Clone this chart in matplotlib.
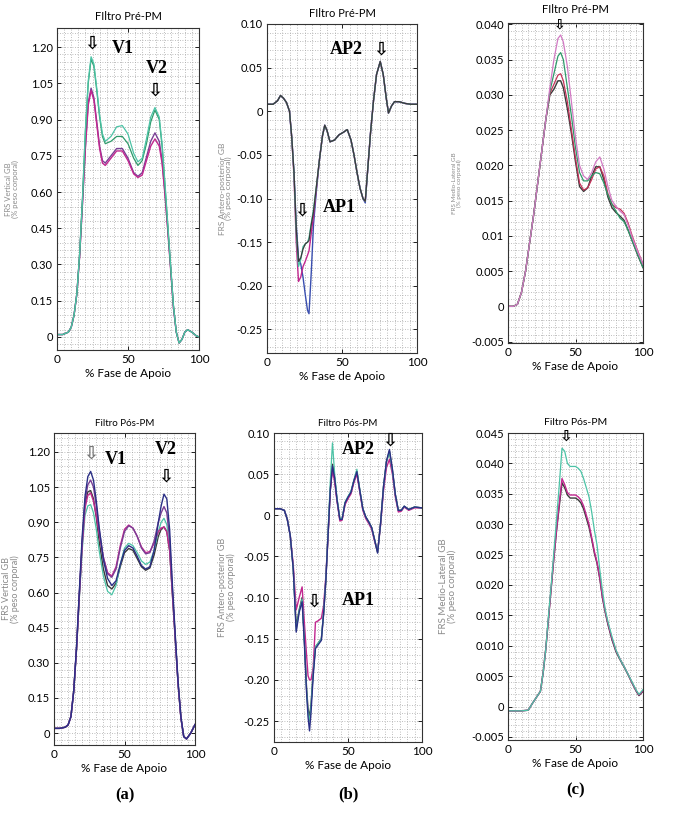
import matplotlib
matplotlib.use("Agg")
import matplotlib.pyplot as plt
from matplotlib.ticker import MultipleLocator

plt.rcParams['font.family'] = ['Lato', 'DejaVu Sans']

# ---------------- data ----------------
# (a) vertical, pre
x_v_pre = [0, 4, 8, 10, 12, 14, 16, 18, 20, 22, 24, 26, 28, 30, 32, 34, 38, 42, 46, 50,
           54, 57, 60, 63, 66, 69, 72, 74, 76, 78, 80, 82, 84, 86, 88, 90, 92, 95, 98, 100]
v_pre_teal = [0.01, 0.01, 0.02, 0.04, 0.09, 0.18, 0.35, 0.58, 0.86, 1.06, 1.16, 1.13, 1.03, 0.92, 0.84, 0.81, 0.83, 0.87, 0.875, 0.84,
              0.76, 0.725, 0.74, 0.82, 0.91, 0.95, 0.91, 0.80, 0.64, 0.47, 0.30, 0.13, 0.02, -0.025, -0.01, 0.02, 0.03, 0.02, 0.005, 0.0]
v_pre_green = [0.01, 0.01, 0.02, 0.04, 0.09, 0.18, 0.35, 0.58, 0.85, 1.05, 1.15, 1.12, 1.02, 0.91, 0.83, 0.80, 0.81, 0.83, 0.83, 0.80,
               0.74, 0.71, 0.73, 0.80, 0.89, 0.94, 0.90, 0.79, 0.63, 0.46, 0.29, 0.13, 0.02, -0.025, -0.01, 0.02, 0.03, 0.02, 0.005, 0.0]
v_pre_magenta = [0.01, 0.01, 0.02, 0.04, 0.09, 0.18, 0.34, 0.56, 0.78, 0.96, 1.02, 0.98, 0.88, 0.78, 0.72, 0.71, 0.74, 0.77, 0.77, 0.73,
                 0.675, 0.66, 0.67, 0.73, 0.79, 0.82, 0.79, 0.72, 0.59, 0.44, 0.28, 0.12, 0.02, -0.025, -0.01, 0.02, 0.03, 0.02, 0.005, 0.0]
v_pre_dark = [0.01, 0.01, 0.02, 0.04, 0.09, 0.18, 0.34, 0.56, 0.79, 0.97, 1.03, 0.99, 0.89, 0.79, 0.73, 0.72, 0.75, 0.78, 0.78, 0.74,
              0.68, 0.665, 0.68, 0.745, 0.81, 0.845, 0.81, 0.73, 0.60, 0.45, 0.29, 0.125, 0.02, -0.025, -0.01, 0.02, 0.03, 0.02, 0.005, 0.0]

# (b) antero-posterior, pre
x_ap_pre = [0, 4, 7, 9, 11, 13, 15, 16.5, 18, 19.5, 21, 22.5, 24, 25.5, 27, 28, 29.5, 31, 33, 35,
            37, 38.5, 40, 42, 45, 48, 51, 53.5, 56, 58, 60, 62, 64, 65.5, 67, 69, 71, 73, 75.5, 77.5,
            79.5, 81, 83, 85, 88, 92, 96, 100]
ap_pre_dark = [0.008, 0.008, 0.012, 0.018, 0.015, 0.01, 0.0, -0.03, -0.07, -0.135, -0.172, -0.168, -0.158, -0.152, -0.15, -0.148, -0.13, -0.115, -0.085, -0.055,
               -0.028, -0.016, -0.022, -0.035, -0.033, -0.027, -0.024, -0.021, -0.033, -0.05, -0.07, -0.088, -0.1, -0.103, -0.07, -0.025, 0.012, 0.042, 0.057, 0.042,
               0.015, -0.002, 0.006, 0.011, 0.011, 0.009, 0.008, 0.008]
ap_pre_magenta = [0.008, 0.008, 0.012, 0.018, 0.015, 0.01, 0.0, -0.03, -0.075, -0.15, -0.195, -0.19, -0.178, -0.172, -0.165, -0.16, -0.14, -0.12, -0.087, -0.055,
                  -0.028, -0.016, -0.022, -0.035, -0.033, -0.027, -0.024, -0.021, -0.033, -0.05, -0.07, -0.088, -0.1, -0.103, -0.07, -0.025, 0.012, 0.042, 0.057, 0.042,
                  0.015, -0.002, 0.006, 0.011, 0.011, 0.009, 0.008, 0.008]
ap_pre_teal = [0.008, 0.008, 0.012, 0.018, 0.015, 0.01, 0.0, -0.03, -0.072, -0.14, -0.178, -0.17, -0.155, -0.152, -0.15, -0.145, -0.128, -0.112, -0.085, -0.055,
               -0.028, -0.016, -0.022, -0.035, -0.033, -0.027, -0.024, -0.021, -0.033, -0.05, -0.07, -0.088, -0.1, -0.103, -0.07, -0.025, 0.012, 0.042, 0.057, 0.042,
               0.015, -0.002, 0.006, 0.011, 0.011, 0.009, 0.008, 0.008]
ap_pre_blue = [0.008, 0.008, 0.012, 0.018, 0.015, 0.01, 0.0, -0.03, -0.07, -0.13, -0.168, -0.175, -0.19, -0.21, -0.228, -0.232, -0.185, -0.13, -0.09, -0.055,
               -0.028, -0.016, -0.022, -0.035, -0.033, -0.027, -0.024, -0.021, -0.033, -0.05, -0.07, -0.088, -0.1, -0.105, -0.07, -0.025, 0.012, 0.042, 0.057, 0.042,
               0.015, -0.002, 0.006, 0.011, 0.011, 0.009, 0.008, 0.008]

# (c) medio-lateral, pre
x_ml_pre = [0, 4, 7, 10, 13, 16, 19, 22, 25, 28, 31, 34, 37, 39, 41, 44, 47, 50, 53, 56,
            59, 62, 65, 68, 71, 74, 77, 80, 83, 86, 89, 92, 96, 100]
ml_pre_pink = [0, 0, 0.0003, 0.002, 0.005, 0.009, 0.013, 0.0175, 0.022, 0.0265, 0.031, 0.035, 0.038, 0.0385, 0.0375, 0.034, 0.029, 0.024, 0.020, 0.0185,
               0.018, 0.019, 0.0205, 0.0212, 0.0195, 0.017, 0.015, 0.0142, 0.0135, 0.013, 0.0115, 0.0098, 0.0078, 0.006]
ml_pre_teal = [0, 0, 0.0003, 0.002, 0.005, 0.009, 0.013, 0.0175, 0.022, 0.0265, 0.0305, 0.033, 0.0355, 0.036, 0.035, 0.031, 0.027, 0.0225, 0.019, 0.0178,
               0.0178, 0.0185, 0.019, 0.0188, 0.0175, 0.0158, 0.0145, 0.0135, 0.0125, 0.012, 0.0108, 0.0093, 0.0074, 0.0055]
ml_pre_red = [0, 0, 0.0003, 0.002, 0.005, 0.009, 0.013, 0.0175, 0.022, 0.0265, 0.0302, 0.0315, 0.0328, 0.033, 0.032, 0.029, 0.025, 0.021, 0.0175, 0.0165,
              0.0168, 0.018, 0.0195, 0.0198, 0.0185, 0.016, 0.0145, 0.014, 0.0138, 0.0132, 0.0118, 0.010, 0.0079, 0.006]
ml_pre_dark = [0, 0, 0.0003, 0.002, 0.005, 0.009, 0.013, 0.0175, 0.022, 0.0265, 0.030, 0.0308, 0.032, 0.032, 0.031, 0.028, 0.0245, 0.0205, 0.017, 0.0163,
               0.0168, 0.0185, 0.0198, 0.0198, 0.018, 0.0155, 0.014, 0.0133, 0.0128, 0.0122, 0.0108, 0.0093, 0.0073, 0.0055]

# (a) vertical, post
x_v_pos = [0, 4, 8, 10, 12, 14, 16, 18, 20, 22, 24, 26, 28, 30, 32, 35, 38, 41, 44, 47,
           50, 53, 56, 59, 62, 65, 68, 71, 74, 76, 78, 80, 82, 84, 86, 88, 90, 92, 94, 97, 100]
v_pos_navy = [0.02, 0.02, 0.025, 0.035, 0.07, 0.18, 0.37, 0.61, 0.84, 1.01, 1.095, 1.117, 1.08, 0.99, 0.88, 0.74, 0.66, 0.63, 0.65, 0.72,
              0.78, 0.80, 0.79, 0.755, 0.715, 0.70, 0.71, 0.78, 0.90, 0.97, 1.02, 1.0, 0.87, 0.63, 0.42, 0.22, 0.07, -0.015, -0.025, 0.0, 0.036]
v_pos_purple = [0.02, 0.02, 0.025, 0.035, 0.07, 0.18, 0.37, 0.60, 0.82, 0.99, 1.06, 1.08, 1.05, 0.97, 0.87, 0.75, 0.68, 0.665, 0.70, 0.79,
                0.86, 0.885, 0.875, 0.84, 0.79, 0.765, 0.77, 0.82, 0.90, 0.94, 0.967, 0.94, 0.83, 0.61, 0.41, 0.21, 0.065, -0.015, -0.025, 0.0, 0.036]
v_pos_magenta = [0.02, 0.02, 0.025, 0.035, 0.07, 0.18, 0.36, 0.59, 0.80, 0.96, 1.015, 1.025, 0.99, 0.93, 0.85, 0.75, 0.685, 0.67, 0.71, 0.80,
                 0.87, 0.888, 0.875, 0.84, 0.795, 0.77, 0.775, 0.81, 0.86, 0.875, 0.88, 0.86, 0.78, 0.59, 0.40, 0.21, 0.065, -0.015, -0.025, 0.0, 0.036]
v_pos_teal = [0.02, 0.02, 0.025, 0.035, 0.07, 0.18, 0.36, 0.58, 0.78, 0.93, 0.97, 0.975, 0.94, 0.87, 0.78, 0.67, 0.605, 0.59, 0.63, 0.72,
              0.79, 0.81, 0.80, 0.77, 0.735, 0.72, 0.73, 0.78, 0.86, 0.90, 0.917, 0.89, 0.80, 0.60, 0.40, 0.21, 0.065, -0.015, -0.025, 0.0, 0.036]
v_pos_gray = [0.02, 0.02, 0.025, 0.035, 0.07, 0.18, 0.36, 0.59, 0.81, 0.98, 1.03, 1.035, 1.0, 0.92, 0.82, 0.70, 0.63, 0.615, 0.64, 0.71,
              0.77, 0.788, 0.78, 0.745, 0.71, 0.695, 0.705, 0.76, 0.84, 0.87, 0.88, 0.86, 0.78, 0.59, 0.40, 0.21, 0.065, -0.015, -0.025, 0.0, 0.036]

# (b) antero-posterior, post
x_ap_pos = [0, 4, 7, 9, 11, 13, 15, 17, 19, 20.5, 22, 23, 24, 25, 26.5, 28, 30, 32, 33.5, 35,
            36.5, 38, 39.5, 41, 42.5, 44.5, 46, 48, 50, 52, 54, 56, 58, 60, 62, 64, 66, 68, 70, 72,
            74, 76, 78, 80, 82, 84, 86, 88, 91, 95, 100]
ap_pos_gray = [0.008, 0.008, 0.006, -0.005, -0.025, -0.065, -0.135, -0.115, -0.1, -0.15, -0.21, -0.235, -0.245, -0.23, -0.19, -0.16, -0.155, -0.15, -0.12, -0.08,
               -0.025, 0.03, 0.062, 0.045, 0.02, -0.005, -0.005, 0.015, 0.022, 0.028, 0.042, 0.053, 0.03, 0.008, -0.002, -0.008, -0.015, -0.03, -0.045, -0.01,
               0.035, 0.065, 0.078, 0.055, 0.025, 0.006, 0.006, 0.011, 0.007, 0.01, 0.009]
ap_pos_navy = [0.008, 0.008, 0.006, -0.005, -0.025, -0.065, -0.142, -0.118, -0.105, -0.155, -0.215, -0.245, -0.262, -0.24, -0.195, -0.162, -0.157, -0.152, -0.12, -0.08,
               -0.025, 0.03, 0.06, 0.045, 0.02, -0.005, -0.005, 0.015, 0.022, 0.028, 0.042, 0.053, 0.03, 0.008, -0.002, -0.008, -0.015, -0.03, -0.046, -0.01,
               0.035, 0.066, 0.08, 0.056, 0.025, 0.006, 0.006, 0.011, 0.007, 0.01, 0.009]
ap_pos_teal = [0.008, 0.008, 0.006, -0.005, -0.025, -0.065, -0.14, -0.116, -0.102, -0.152, -0.212, -0.24, -0.25, -0.232, -0.19, -0.16, -0.155, -0.15, -0.118, -0.078,
               -0.02, 0.04, 0.088, 0.05, 0.022, -0.004, -0.004, 0.016, 0.023, 0.029, 0.043, 0.056, 0.031, 0.008, -0.002, -0.008, -0.015, -0.03, -0.045, -0.01,
               0.035, 0.065, 0.077, 0.054, 0.025, 0.006, 0.006, 0.011, 0.007, 0.01, 0.009]
ap_pos_magenta = [0.008, 0.008, 0.006, -0.005, -0.025, -0.06, -0.115, -0.1, -0.087, -0.13, -0.17, -0.195, -0.2, -0.2, -0.185, -0.13, -0.128, -0.125, -0.11, -0.075,
                  -0.025, 0.03, 0.055, 0.04, 0.018, -0.007, -0.006, 0.013, 0.02, 0.026, 0.04, 0.05, 0.028, 0.006, -0.004, -0.01, -0.017, -0.032, -0.044, -0.012,
                  0.03, 0.058, 0.068, 0.05, 0.022, 0.004, 0.005, 0.01, 0.006, 0.009, 0.009]

# (c) medio-lateral, post
x_ml_pos = [0, 5, 10, 15, 18, 21, 24, 26, 28, 30, 32, 34, 36, 38, 40, 42, 44, 46, 48, 50,
            52, 54, 56, 58, 60, 62, 64, 66, 68, 70, 72, 74, 77, 80, 83, 86, 89, 92, 95, 97, 100]
ml_pos_dark = [-0.0007, -0.0007, -0.0007, -0.0006, 0.0005, 0.0015, 0.0025, 0.0055, 0.0095, 0.0145, 0.0195, 0.0245, 0.029, 0.033, 0.0368, 0.036, 0.0348, 0.0343, 0.0343, 0.0343,
               0.034, 0.0335, 0.0325, 0.031, 0.0295, 0.0275, 0.0252, 0.0235, 0.021, 0.0178, 0.0155, 0.0135, 0.011, 0.009, 0.0077, 0.0065, 0.0052, 0.0038, 0.0025, 0.0018, 0.0025]
ml_pos_teal = [-0.0007, -0.0007, -0.0007, -0.0006, 0.0005, 0.0015, 0.0025, 0.0055, 0.0095, 0.015, 0.020, 0.0255, 0.031, 0.0365, 0.0425, 0.042, 0.040, 0.0395, 0.0395, 0.0395,
               0.0392, 0.0387, 0.0375, 0.036, 0.0345, 0.032, 0.029, 0.0265, 0.0225, 0.019, 0.016, 0.014, 0.0115, 0.0093, 0.0078, 0.0066, 0.0053, 0.004, 0.0027, 0.002, 0.0028]
ml_pos_magenta = [-0.0007, -0.0007, -0.0007, -0.0006, 0.0005, 0.0015, 0.0025, 0.0055, 0.0095, 0.0145, 0.0195, 0.0245, 0.0292, 0.0335, 0.0375, 0.0365, 0.0352, 0.0348, 0.0348, 0.0348,
                  0.0345, 0.034, 0.033, 0.0315, 0.030, 0.0278, 0.0255, 0.0237, 0.0212, 0.018, 0.0157, 0.0137, 0.0112, 0.0092, 0.0078, 0.0066, 0.0053, 0.0039, 0.0026, 0.0019, 0.0026]

# tick labels
v_ticks = [0, 0.15, 0.30, 0.45, 0.60, 0.75, 0.90, 1.05, 1.20]
v_labels = ['0', '0.15', '0.30', '0.45', '0.60', '0.75', '0.90', '1.05', '1.20']
ap_ticks = [-0.25, -0.20, -0.15, -0.10, -0.05, 0, 0.05, 0.10]
ap_labels = ['-0.25', '-0.20', '-0.15', '-0.10', '-0.05', '0', '0.05', '0.10']
ml_pre_ticks = [-0.005, 0, 0.005, 0.01, 0.015, 0.02, 0.025, 0.03, 0.035, 0.04]
ml_pre_labels = ['-0.005', '0', '0.005', '0.01', '0.015', '0.020', '0.025', '0.030', '0.035', '0.040']
ml_pos_ticks = [-0.005, 0, 0.005, 0.01, 0.015, 0.02, 0.025, 0.03, 0.035, 0.04, 0.045]
ml_pos_labels = ['-0.005', '0', '0.005', '0.010', '0.015', '0.020', '0.025', '0.030', '0.035', '0.040', '0.045']

TEAL = '#4cc3a6'
GREEN = '#2e9a6a'
MAGENTA = '#c2278f'
PINK = '#d27ac4'
RED = '#c4325a'
PURPLE = '#7a3f95'
NAVY = '#2b2f86'
DARK = '#3a3a3a'
BLUE = '#3a4fb0'

W, H = 674, 825
fig = plt.figure(figsize=(W / 100, H / 100), dpi=100)


def make_ax(left, right, top, bottom, ylim, yticks, ylabels, ylabel, ylab_size, ylab_x, minor_y):
    ax = fig.add_axes([left / W, 1 - bottom / H, (right - left) / W, (bottom - top) / H])
    ax.set_xlim(0, 100)
    ax.set_ylim(*ylim)
    ax.set_xticks([0, 50, 100])
    ax.set_xticklabels(['0', '50', '100'], fontsize=8.5)
    ax.set_yticks(yticks)
    ax.set_yticklabels(ylabels, fontsize=8)
    ax.xaxis.set_minor_locator(MultipleLocator(5))
    ax.yaxis.set_minor_locator(MultipleLocator(minor_y))
    ax.grid(which='both', linestyle=(0, (1, 2)), color='#a8a8a8', linewidth=0.6)
    ax.tick_params(which='major', direction='in', length=3, width=0.6, pad=3, top=True, right=True)
    ax.tick_params(which='minor', length=0)
    for s in ax.spines.values():
        s.set_linewidth(0.8)
        s.set_color('#333333')
    ax.set_xlabel('% Fase de Apoio', fontsize=8.5, labelpad=2)
    ax.set_ylabel(ylabel, fontsize=ylab_size, color='#8a8a8a', linespacing=0.9)
    ax.yaxis.set_label_coords(ylab_x, 0.5)
    return ax


def arrow(ax, x, y, color='black', size=13):
    ax.text(x, y, '⇩', ha='center', va='center', fontsize=size, color=color,
            family='DejaVu Sans', fontweight='bold', clip_on=False)


def tag(ax, x, y, s):
    ax.text(x, y, s, ha='center', va='center', fontsize=13, fontweight='bold',
            family='Liberation Serif')


# (a) pre
ax1 = make_ax(57, 199, 28, 350, (-0.054, 1.279), v_ticks, v_labels,
              'FRS Vertical GB\n(% peso corporal)', 5.5, -0.27, 0.03)
ax1.plot(x_v_pre, v_pre_dark, color=PURPLE, lw=1.0)
ax1.plot(x_v_pre, v_pre_magenta, color=MAGENTA, lw=1.0)
ax1.plot(x_v_pre, v_pre_green, color=GREEN, lw=0.9)
ax1.plot(x_v_pre, v_pre_teal, color=TEAL, lw=0.9)
ax1.set_title('FIltro Pré-PM', fontsize=8, pad=6)
arrow(ax1, 24.5, 1.215)
tag(ax1, 46, 1.195, 'V1')
tag(ax1, 70, 1.11, 'V2')
arrow(ax1, 69, 1.02)

# (b) pre
ax2 = make_ax(267, 417, 24, 353, (-0.277, 0.10), ap_ticks, ap_labels,
              'FRS Antero-posterior GB\n(% peso corporal)', 6, -0.23, 0.01)
ax2.plot(x_ap_pre, ap_pre_blue, color=BLUE, lw=1.0)
ax2.plot(x_ap_pre, ap_pre_magenta, color=MAGENTA, lw=1.0)
ax2.plot(x_ap_pre, ap_pre_teal, color=TEAL, lw=0.9)
ax2.plot(x_ap_pre, ap_pre_dark, color=DARK, lw=0.9)
ax2.set_title('FIltro Pré-PM', fontsize=8, pad=5)
tag(ax2, 53, 0.071, 'AP2')
arrow(ax2, 76, 0.071)
tag(ax2, 48, -0.11, 'AP1')
arrow(ax2, 23.5, -0.114)

# (c) pre
ax3 = make_ax(508, 643, 23, 343, (-0.0052, 0.0402), ml_pre_ticks, ml_pre_labels,
              'FRS Medio-Lateral GB\n(% peso corporal)', 4.5, -0.34, 0.001)
ax3.plot(x_ml_pre, ml_pre_dark, color=DARK, lw=1.0)
ax3.plot(x_ml_pre, ml_pre_red, color=RED, lw=0.9)
ax3.plot(x_ml_pre, ml_pre_teal, color=GREEN, lw=0.9)
ax3.plot(x_ml_pre, ml_pre_pink, color=PINK, lw=0.9)
ax3.set_title('FIltro Pré-PM', fontsize=8, pad=7)
arrow(ax3, 38.5, 0.0400, size=10)

# (a) post
ax4 = make_ax(54, 195, 433, 745, (-0.051, 1.281), v_ticks, v_labels,
              'FRS Vertical GB\n(% peso corporal)', 6.5, -0.24, 0.03)
ax4.plot(x_v_pos, v_pos_gray, color=DARK, lw=1.0)
ax4.plot(x_v_pos, v_pos_teal, color=TEAL, lw=0.9)
ax4.plot(x_v_pos, v_pos_magenta, color=MAGENTA, lw=1.0)
ax4.plot(x_v_pos, v_pos_purple, color=PURPLE, lw=1.0)
ax4.plot(x_v_pos, v_pos_navy, color=NAVY, lw=1.0)
ax4.set_title('Filtro Pós-PM', fontsize=7, pad=5)
arrow(ax4, 26, 1.195, color='#777777')
tag(ax4, 44, 1.17, 'V1')
tag(ax4, 79, 1.21, 'V2')
arrow(ax4, 79, 1.095)
ax4.text(0.5, -0.16, '(a)', transform=ax4.transAxes, ha='center', va='center',
         fontsize=12, fontweight='bold', family='Liberation Serif')

# (b) post
ax5 = make_ax(274, 422, 433, 742, (-0.2755, 0.10), ap_ticks, ap_labels,
              'FRS Antero-posterior GB\n(% peso corporal)', 6.5, -0.26, 0.01)
ax5.plot(x_ap_pos, ap_pos_gray, color=DARK, lw=1.0)
ax5.plot(x_ap_pos, ap_pos_magenta, color=MAGENTA, lw=1.0)
ax5.plot(x_ap_pos, ap_pos_teal, color=TEAL, lw=0.9)
ax5.plot(x_ap_pos, ap_pos_navy, color=NAVY, lw=1.0)
ax5.set_title('Filtro Pós-PM', fontsize=7, pad=5)
tag(ax5, 57, 0.08, 'AP2')
arrow(ax5, 78.6, 0.091)
tag(ax5, 57, -0.103, 'AP1')
arrow(ax5, 27, -0.105)
ax5.text(0.5, -0.17, '(b)', transform=ax5.transAxes, ha='center', va='center',
         fontsize=12, fontweight='bold', family='Liberation Serif')

# (c) post
ax6 = make_ax(508, 643, 433, 740, (-0.0055, 0.045), ml_pos_ticks, ml_pos_labels,
              'FRS Medio-Lateral GB\n(% peso corporal)', 7, -0.38, 0.001)
ax6.plot(x_ml_pos, ml_pos_dark, color=DARK, lw=1.0)
ax6.plot(x_ml_pos, ml_pos_magenta, color=MAGENTA, lw=1.0)
ax6.plot(x_ml_pos, ml_pos_teal, color=TEAL, lw=0.9)
ax6.set_title('Filtro Pós-PM', fontsize=7.5, pad=6)
arrow(ax6, 42.7, 0.0445, size=11)
ax6.text(0.5, -0.163, '(c)', transform=ax6.transAxes, ha='center', va='center',
         fontsize=12, fontweight='bold', family='Liberation Serif')

fig.savefig('out.png', dpi=100, facecolor='white')
